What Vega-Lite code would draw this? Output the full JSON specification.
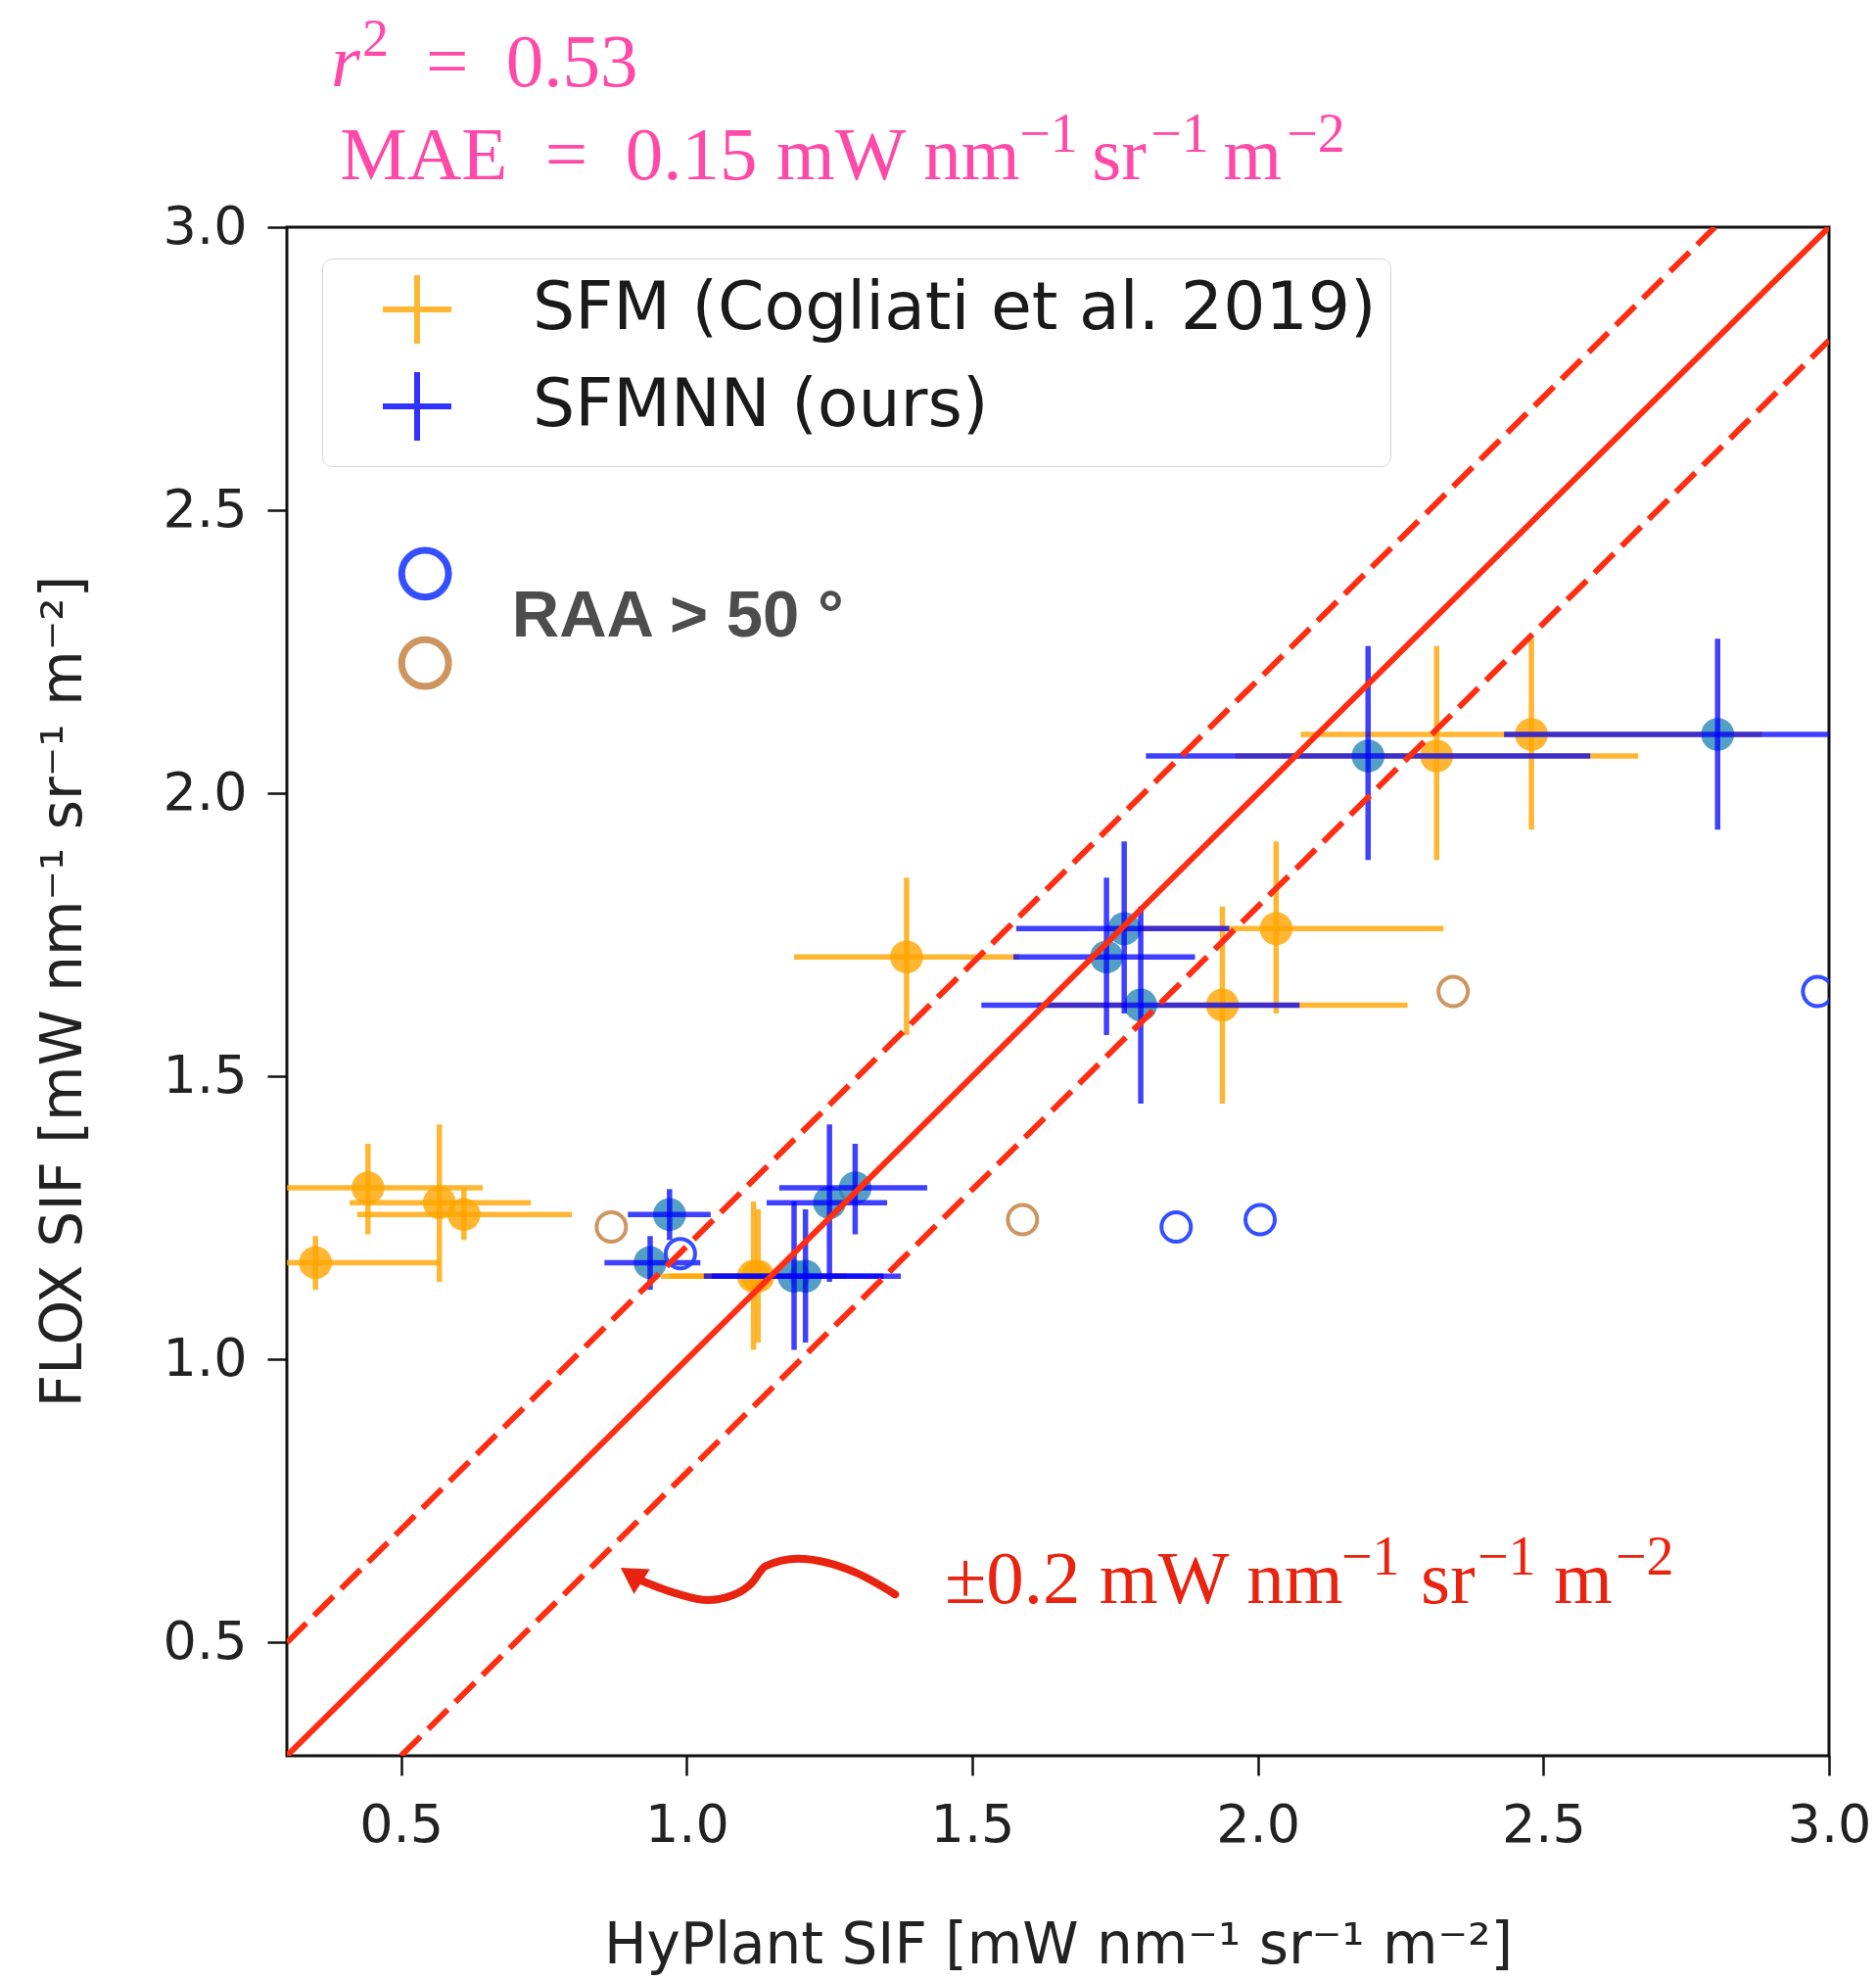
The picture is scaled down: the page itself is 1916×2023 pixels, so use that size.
{
  "$schema": "https://vega.github.io/schema/vega-lite/v6.json",
  "autosize": {"type": "none"},
  "padding": {"left": 293, "top": 232, "right": 48, "bottom": 230},
  "width": 1575,
  "height": 1561,
  "background": "white",
  "config": {
    "view": {"stroke": "#111", "strokeWidth": 3},
    "axis": {"grid": false, "domain": false, "tickSize": 20, "tickWidth": 2.5, "tickColor": "#111", "labelFont": "DejaVu Sans", "labelFontSize": 54, "labelColor": "#222", "titleFont": "DejaVu Sans", "titleFontSize": 58, "titleFontWeight": "normal", "titleColor": "#222", "labelFlush": false, "labelOverlap": false}
  },
  "datasets": {
    "pts": [
      {"method": "SFM (Cogliati et al. 2019)", "x": 0.350, "y": 1.171, "xlo": 0.133, "xhi": 0.567, "ylo": 1.123, "yhi": 1.218},
      {"method": "SFM (Cogliati et al. 2019)", "x": 0.442, "y": 1.303, "xlo": 0.242, "xhi": 0.643, "ylo": 1.221, "yhi": 1.381},
      {"method": "SFM (Cogliati et al. 2019)", "x": 0.567, "y": 1.277, "xlo": 0.410, "xhi": 0.727, "ylo": 1.137, "yhi": 1.415},
      {"method": "SFM (Cogliati et al. 2019)", "x": 0.610, "y": 1.256, "xlo": 0.423, "xhi": 0.799, "ylo": 1.211, "yhi": 1.301},
      {"method": "SFM (Cogliati et al. 2019)", "x": 1.117, "y": 1.147, "xlo": 0.955, "xhi": 1.280, "ylo": 1.017, "yhi": 1.279},
      {"method": "SFM (Cogliati et al. 2019)", "x": 1.125, "y": 1.147, "xlo": 0.970, "xhi": 1.280, "ylo": 1.030, "yhi": 1.265},
      {"method": "SFM (Cogliati et al. 2019)", "x": 1.385, "y": 1.711, "xlo": 1.188, "xhi": 1.582, "ylo": 1.573, "yhi": 1.851},
      {"method": "SFM (Cogliati et al. 2019)", "x": 1.938, "y": 1.626, "xlo": 1.614, "xhi": 2.262, "ylo": 1.452, "yhi": 1.800},
      {"method": "SFM (Cogliati et al. 2019)", "x": 2.032, "y": 1.761, "xlo": 1.739, "xhi": 2.325, "ylo": 1.611, "yhi": 1.915},
      {"method": "SFM (Cogliati et al. 2019)", "x": 2.313, "y": 2.066, "xlo": 1.960, "xhi": 2.666, "ylo": 1.882, "yhi": 2.260},
      {"method": "SFM (Cogliati et al. 2019)", "x": 2.479, "y": 2.104, "xlo": 2.075, "xhi": 2.883, "ylo": 1.936, "yhi": 2.273},
      {"method": "SFMNN (ours)", "x": 0.936, "y": 1.171, "xlo": 0.856, "xhi": 1.024, "ylo": 1.123, "yhi": 1.218},
      {"method": "SFMNN (ours)", "x": 0.970, "y": 1.256, "xlo": 0.897, "xhi": 1.042, "ylo": 1.211, "yhi": 1.301},
      {"method": "SFMNN (ours)", "x": 1.188, "y": 1.147, "xlo": 1.030, "xhi": 1.345, "ylo": 1.017, "yhi": 1.279},
      {"method": "SFMNN (ours)", "x": 1.208, "y": 1.147, "xlo": 1.044, "xhi": 1.375, "ylo": 1.030, "yhi": 1.265},
      {"method": "SFMNN (ours)", "x": 1.250, "y": 1.277, "xlo": 1.140, "xhi": 1.351, "ylo": 1.137, "yhi": 1.415},
      {"method": "SFMNN (ours)", "x": 1.295, "y": 1.303, "xlo": 1.162, "xhi": 1.421, "ylo": 1.221, "yhi": 1.381},
      {"method": "SFMNN (ours)", "x": 1.735, "y": 1.711, "xlo": 1.572, "xhi": 1.890, "ylo": 1.573, "yhi": 1.851},
      {"method": "SFMNN (ours)", "x": 1.766, "y": 1.761, "xlo": 1.577, "xhi": 1.950, "ylo": 1.611, "yhi": 1.915},
      {"method": "SFMNN (ours)", "x": 1.795, "y": 1.626, "xlo": 1.516, "xhi": 2.073, "ylo": 1.452, "yhi": 1.800},
      {"method": "SFMNN (ours)", "x": 2.193, "y": 2.066, "xlo": 1.804, "xhi": 2.582, "ylo": 1.882, "yhi": 2.260},
      {"method": "SFMNN (ours)", "x": 2.805, "y": 2.104, "xlo": 2.431, "xhi": 3.179, "ylo": 1.936, "yhi": 2.273}
    ],
    "raa": [
      {"method": "SFM", "x": 0.868, "y": 1.234},
      {"method": "SFM", "x": 1.588, "y": 1.247},
      {"method": "SFM", "x": 2.342, "y": 1.650},
      {"method": "SFMNN", "x": 0.989, "y": 1.187},
      {"method": "SFMNN", "x": 1.857, "y": 1.234},
      {"method": "SFMNN", "x": 2.004, "y": 1.247},
      {"method": "SFMNN", "x": 2.980, "y": 1.650}
    ],
    "lines": [
      {"line": "one", "x": 0.3, "y": 0.3},
      {"line": "one", "x": 3.0, "y": 3.0},
      {"line": "upper", "x": 0.3, "y": 0.5},
      {"line": "upper", "x": 2.8, "y": 3.0},
      {"line": "lower", "x": 0.5, "y": 0.3},
      {"line": "lower", "x": 3.0, "y": 2.8}
    ],
    "arrow": [
      {"x": 1.365, "y": 0.585},
      {"x": 1.295, "y": 0.624},
      {"x": 1.195, "y": 0.648},
      {"x": 1.138, "y": 0.635},
      {"x": 1.113, "y": 0.604},
      {"x": 1.082, "y": 0.584},
      {"x": 1.037, "y": 0.575},
      {"x": 0.981, "y": 0.587},
      {"x": 0.917, "y": 0.611}
    ]
  },
  "encoding": {
    "x": {"type": "quantitative", "scale": {"domain": [0.3, 3.0], "nice": false, "zero": false},
          "axis": {"title": "HyPlant SIF [mW nm⁻¹ sr⁻¹ m⁻²]", "values": [0.5, 1.0, 1.5, 2.0, 2.5, 3.0], "format": ".1f", "labelPadding": 24, "titleY": 194, "titleBaseline": "middle"}},
    "y": {"type": "quantitative", "scale": {"domain": [0.3, 3.0], "nice": false, "zero": false},
          "axis": {"title": "FLOX SIF [mW nm⁻¹ sr⁻¹ m⁻²]", "values": [0.5, 1.0, 1.5, 2.0, 2.5, 3.0], "format": ".1f", "labelPadding": 21, "titleX": -228, "titleY": 780, "titleBaseline": "middle"}}
  },
  "layer": [
    {
      "data": {"name": "pts"},
      "transform": [{"filter": "datum.method === 'SFM (Cogliati et al. 2019)'"}],
      "mark": {"type": "point", "shape": "circle", "filled": true, "color": "#ffa500", "opacity": 0.8, "size": 1134, "strokeWidth": 0, "clip": true},
      "encoding": {"x": {"field": "x", "type": "quantitative"}, "y": {"field": "y", "type": "quantitative"}}
    },
    {
      "data": {"name": "pts"},
      "transform": [{"filter": "datum.method === 'SFM (Cogliati et al. 2019)'"}],
      "mark": {"type": "rule", "strokeWidth": 5.5, "opacity": 0.8, "clip": true},
      "encoding": {
        "x": {"field": "xlo", "type": "quantitative"}, "x2": {"field": "xhi"}, "y": {"field": "y", "type": "quantitative"},
        "color": {"field": "method", "type": "nominal", "scale": {"domain": ["SFM (Cogliati et al. 2019)", "SFMNN (ours)"], "range": ["#ffa500", "#0000ff"]},
                  "legend": {"orient": "none", "legendX": 36, "legendY": 32, "title": null, "symbolType": "M-1,0L1,0M0,-1L0,1", "symbolSize": 4900, "symbolStrokeWidth": 6, "labelFont": "DejaVu Sans", "labelFontSize": 68, "labelColor": "#1a1a1a", "labelOffset": 80, "padding": 14, "symbolOffset": 45, "rowPadding": 5, "strokeColor": "#d6d6d6", "fillColor": "rgba(255,255,255,0.85)", "cornerRadius": 10, "labelLimit": 2000}}
      }
    },
    {
      "data": {"name": "pts"},
      "transform": [{"filter": "datum.method === 'SFM (Cogliati et al. 2019)'"}],
      "mark": {"type": "rule", "strokeWidth": 5.5, "opacity": 0.8, "clip": true},
      "encoding": {
        "x": {"field": "x", "type": "quantitative"}, "y": {"field": "ylo", "type": "quantitative"}, "y2": {"field": "yhi"},
        "color": {"field": "method", "type": "nominal"}
      }
    },
    {
      "data": {"name": "pts"},
      "transform": [{"filter": "datum.method === 'SFMNN (ours)'"}],
      "mark": {"type": "point", "shape": "circle", "filled": true, "color": "#2a86b8", "opacity": 0.8, "size": 1134, "strokeWidth": 0, "clip": true},
      "encoding": {"x": {"field": "x", "type": "quantitative"}, "y": {"field": "y", "type": "quantitative"}}
    },
    {
      "data": {"name": "pts"},
      "transform": [{"filter": "datum.method === 'SFMNN (ours)'"}],
      "mark": {"type": "rule", "strokeWidth": 5.5, "opacity": 0.75, "clip": true},
      "encoding": {
        "x": {"field": "xlo", "type": "quantitative"}, "x2": {"field": "xhi"}, "y": {"field": "y", "type": "quantitative"},
        "color": {"field": "method", "type": "nominal"}
      }
    },
    {
      "data": {"name": "pts"},
      "transform": [{"filter": "datum.method === 'SFMNN (ours)'"}],
      "mark": {"type": "rule", "strokeWidth": 5.5, "opacity": 0.75, "clip": true},
      "encoding": {
        "x": {"field": "x", "type": "quantitative"}, "y": {"field": "ylo", "type": "quantitative"}, "y2": {"field": "yhi"},
        "color": {"field": "method", "type": "nominal"}
      }
    },
    {
      "data": {"name": "raa"},
      "mark": {"type": "point", "shape": "circle", "filled": false, "size": 900, "strokeWidth": 4, "opacity": 0.9, "clip": true},
      "encoding": {
        "x": {"field": "x", "type": "quantitative"}, "y": {"field": "y", "type": "quantitative"},
        "stroke": {"field": "method", "type": "nominal", "scale": {"domain": ["SFM", "SFMNN"], "range": ["#c98a4f", "#1f3cff"]}, "legend": null}
      }
    },
    {
      "data": {"name": "lines"},
      "transform": [{"filter": "datum.line === 'one'"}],
      "mark": {"type": "line", "color": "#ff2d12", "strokeWidth": 6, "clip": true},
      "encoding": {"x": {"field": "x", "type": "quantitative"}, "y": {"field": "y", "type": "quantitative"}, "detail": {"field": "line"}}
    },
    {
      "data": {"name": "lines"},
      "transform": [{"filter": "datum.line !== 'one'"}],
      "mark": {"type": "line", "color": "#ff2d12", "strokeWidth": 6, "strokeDash": [28, 11], "clip": true},
      "encoding": {"x": {"field": "x", "type": "quantitative"}, "y": {"field": "y", "type": "quantitative"}, "detail": {"field": "line"}}
    },
    {
      "data": {"name": "arrow"},
      "mark": {"type": "line", "color": "#e8230f", "strokeWidth": 8, "interpolate": "monotone", "strokeCap": "round"},
      "encoding": {"x": {"field": "x", "type": "quantitative"}, "y": {"field": "y", "type": "quantitative"}}
    },
    {
      "data": {"values": [{"tip": "arrowhead"}]},
      "mark": {"type": "point", "shape": "triangle-left", "filled": true, "color": "#e8230f", "opacity": 1, "size": 900, "angle": 33, "strokeWidth": 0},
      "encoding": {"x": {"datum": 0.903}, "y": {"datum": 0.620}}
    },
    {
      "data": {"values": [{"c": "RAA_SFMNN"}]},
      "mark": {"type": "point", "shape": "circle", "filled": false, "size": 2290, "strokeWidth": 7, "color": "#1f3cff", "opacity": 0.9},
      "encoding": {"x": {"datum": 0.542}, "y": {"datum": 2.388}}
    },
    {
      "data": {"values": [{"c": "RAA_SFM"}]},
      "mark": {"type": "point", "shape": "circle", "filled": false, "size": 2290, "strokeWidth": 7, "color": "#c98a4f", "opacity": 0.9},
      "encoding": {"x": {"datum": 0.542}, "y": {"datum": 2.230}}
    },
    {
      "data": {"values": [{"t": "RAA > 50 °"}]},
      "mark": {"type": "text", "font": "Liberation Sans", "fontWeight": "bold", "fontSize": 67, "color": "#4d4d4d", "align": "left", "baseline": "alphabetic"},
      "encoding": {"x": {"datum": 0.694}, "y": {"datum": 2.277}, "text": {"field": "t"}}
    },
    {
      "data": {"values": [{"t": "r"}]},
      "mark": {"type": "text", "font": "Liberation Serif", "fontStyle": "italic", "fontSize": 77, "color": "#ff49a8", "align": "left", "baseline": "alphabetic"},
      "encoding": {"x": {"datum": 0.377}, "y": {"datum": 3.249}, "text": {"field": "t"}}
    },
    {
      "data": {"values": [{"t": "2"}]},
      "mark": {"type": "text", "font": "Liberation Serif", "fontSize": 54, "color": "#ff49a8", "align": "left", "baseline": "alphabetic", "dx": 32, "dy": -31},
      "encoding": {"x": {"datum": 0.377}, "y": {"datum": 3.249}, "text": {"field": "t"}}
    },
    {
      "data": {"values": [{"t": "=\u20020.53"}]},
      "mark": {"type": "text", "font": "Liberation Serif", "fontSize": 77, "color": "#ff49a8", "align": "left", "baseline": "alphabetic", "dx": 97},
      "encoding": {"x": {"datum": 0.377}, "y": {"datum": 3.249}, "text": {"field": "t"}}
    },
    {
      "data": {"values": [{"t": "MAE\u2002=\u20020.15 mW nm"}]},
      "mark": {"type": "text", "font": "Liberation Serif", "fontSize": 77, "color": "#ff49a8", "align": "left", "baseline": "alphabetic"},
      "encoding": {"x": {"datum": 0.393}, "y": {"datum": 3.085}, "text": {"field": "t"}}
    },
    {
      "data": {"values": [{"t": "\u22121"}]},
      "mark": {"type": "text", "font": "Liberation Serif", "fontSize": 56, "color": "#ff49a8", "align": "left", "baseline": "alphabetic", "dx": 694, "dy": -28},
      "encoding": {"x": {"datum": 0.393}, "y": {"datum": 3.085}, "text": {"field": "t"}}
    },
    {
      "data": {"values": [{"t": "sr"}]},
      "mark": {"type": "text", "font": "Liberation Serif", "fontSize": 77, "color": "#ff49a8", "align": "left", "baseline": "alphabetic", "dx": 768},
      "encoding": {"x": {"datum": 0.393}, "y": {"datum": 3.085}, "text": {"field": "t"}}
    },
    {
      "data": {"values": [{"t": "\u22121"}]},
      "mark": {"type": "text", "font": "Liberation Serif", "fontSize": 56, "color": "#ff49a8", "align": "left", "baseline": "alphabetic", "dx": 828, "dy": -28},
      "encoding": {"x": {"datum": 0.393}, "y": {"datum": 3.085}, "text": {"field": "t"}}
    },
    {
      "data": {"values": [{"t": "m"}]},
      "mark": {"type": "text", "font": "Liberation Serif", "fontSize": 77, "color": "#ff49a8", "align": "left", "baseline": "alphabetic", "dx": 902},
      "encoding": {"x": {"datum": 0.393}, "y": {"datum": 3.085}, "text": {"field": "t"}}
    },
    {
      "data": {"values": [{"t": "\u22122"}]},
      "mark": {"type": "text", "font": "Liberation Serif", "fontSize": 56, "color": "#ff49a8", "align": "left", "baseline": "alphabetic", "dx": 967, "dy": -28},
      "encoding": {"x": {"datum": 0.393}, "y": {"datum": 3.085}, "text": {"field": "t"}}
    },
    {
      "data": {"values": [{"t": "±0.2 mW nm"}]},
      "mark": {"type": "text", "font": "Liberation Serif", "fontSize": 77, "color": "#e8230f", "align": "left", "baseline": "alphabetic"},
      "encoding": {"x": {"datum": 1.452}, "y": {"datum": 0.569}, "text": {"field": "t"}}
    },
    {
      "data": {"values": [{"t": "\u22121"}]},
      "mark": {"type": "text", "font": "Liberation Serif", "fontSize": 56, "color": "#e8230f", "align": "left", "baseline": "alphabetic", "dx": 405, "dy": -29},
      "encoding": {"x": {"datum": 1.452}, "y": {"datum": 0.569}, "text": {"field": "t"}}
    },
    {
      "data": {"values": [{"t": "sr"}]},
      "mark": {"type": "text", "font": "Liberation Serif", "fontSize": 77, "color": "#e8230f", "align": "left", "baseline": "alphabetic", "dx": 486},
      "encoding": {"x": {"datum": 1.452}, "y": {"datum": 0.569}, "text": {"field": "t"}}
    },
    {
      "data": {"values": [{"t": "\u22121"}]},
      "mark": {"type": "text", "font": "Liberation Serif", "fontSize": 56, "color": "#e8230f", "align": "left", "baseline": "alphabetic", "dx": 544, "dy": -29},
      "encoding": {"x": {"datum": 1.452}, "y": {"datum": 0.569}, "text": {"field": "t"}}
    },
    {
      "data": {"values": [{"t": "m"}]},
      "mark": {"type": "text", "font": "Liberation Serif", "fontSize": 77, "color": "#e8230f", "align": "left", "baseline": "alphabetic", "dx": 622},
      "encoding": {"x": {"datum": 1.452}, "y": {"datum": 0.569}, "text": {"field": "t"}}
    },
    {
      "data": {"values": [{"t": "\u22122"}]},
      "mark": {"type": "text", "font": "Liberation Serif", "fontSize": 56, "color": "#e8230f", "align": "left", "baseline": "alphabetic", "dx": 685, "dy": -29},
      "encoding": {"x": {"datum": 1.452}, "y": {"datum": 0.569}, "text": {"field": "t"}}
    }
  ]
}
